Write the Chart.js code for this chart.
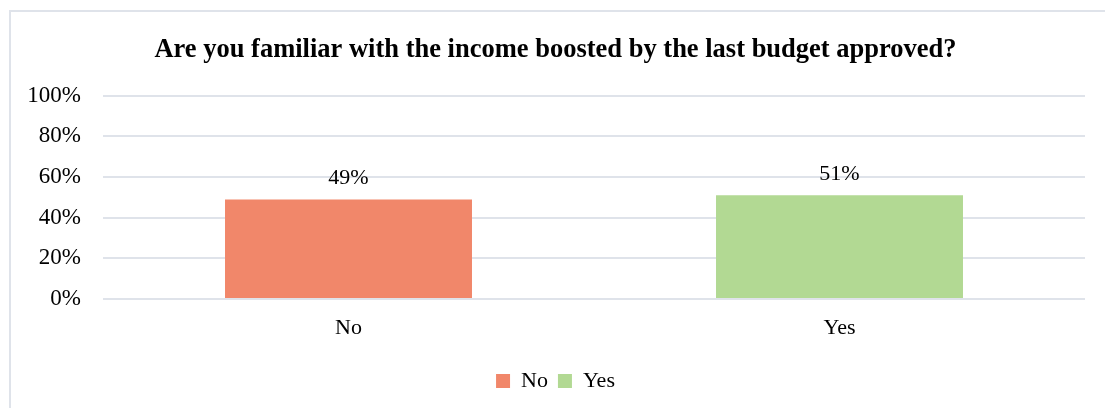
<!DOCTYPE html>
<html>
<head>
<meta charset="utf-8">
<script src="https://cdn.jsdelivr.net/npm/chart.js@4"></script>
<style>
    html, body { margin: 0; padding: 0; background: #fff; overflow: hidden; }
    #wrap { position: relative; width: 1105px; height: 408px; }
    #frame {
        position: absolute; left: 9px; top: 10px;
        width: 1200px; height: 500px;
        border: 2px solid #dfe3ea; box-sizing: border-box;
    }
    canvas { position: absolute; left: 0; top: 0; }
</style>
</head>
<body>
<div id="wrap">
    <div id="frame"></div>
    <canvas id="chart" width="1105" height="408"></canvas>
</div>
<script>
const categories = ['No', 'Yes'];
const noValues = [49, null];
const yesValues = [null, 51];
const yTicks = [0, 20, 40, 60, 80, 100];

const SERIF = '"Liberation Serif", "Times New Roman", serif';

// etiquetas de datos encima de cada barra
const barLabels = {
    id: 'barLabels',
    afterDatasetsDraw(chart) {
        const ctx = chart.ctx;
        ctx.save();
        ctx.font = '22px ' + SERIF;
        ctx.fillStyle = '#000';
        ctx.textAlign = 'center';
        ctx.textBaseline = 'bottom';
        chart.data.datasets.forEach((ds, i) => {
            chart.getDatasetMeta(i).data.forEach((bar, j) => {
                const v = ds.data[j];
                if (v == null) return;
                ctx.fillText(v + '%', bar.x, bar.y - 10);
            });
        });
        ctx.restore();
    }
};

new Chart(document.getElementById('chart'), {
    type: 'bar',
    data: {
        labels: categories,
        datasets: [
            { label: 'No', data: noValues, backgroundColor: '#f1876a' },
            { label: 'Yes', data: yesValues, backgroundColor: '#b2d993' }
        ]
    },
    options: {
        responsive: false,
        animation: false,
        grouped: false,
        barPercentage: 1,
        categoryPercentage: 0.503,
        layout: { padding: { left: 26, right: 20, top: 0, bottom: 6 } },
        plugins: {
            title: {
                display: true,
                text: 'Are you familiar with the income boosted by the last budget approved?',
                color: '#000',
                font: { family: SERIF, size: 26.5, weight: 'bold' },
                padding: { top: 34, bottom: 30 }
            },
            legend: {
                position: 'bottom',
                labels: {
                    color: '#000',
                    boxWidth: 14,
                    boxHeight: 14,
                    padding: 10,
                    font: { family: SERIF, size: 22 }
                }
            },
            tooltip: { enabled: false }
        },
        scales: {
            x: {
                grid: { display: false, drawTicks: false },
                border: { display: false },
                ticks: { color: '#000', padding: 16, font: { family: SERIF, size: 22 } },
                afterFit(scale) { scale.height = 61; }
            },
            y: {
                min: 0,
                max: 100,
                afterBuildTicks(scale) { scale.ticks = yTicks.map(v => ({ value: v })); },
                grid: { color: '#dfe3ea', lineWidth: 2, drawTicks: false },
                border: { display: false },
                ticks: {
                    color: '#000',
                    padding: 22,
                    font: { family: SERIF, size: 23 },
                    callback: v => v + '%'
                },
                afterFit(scale) { scale.width = 77; }
            }
        }
    },
    plugins: [barLabels]
});
</script>
</body>
</html>
